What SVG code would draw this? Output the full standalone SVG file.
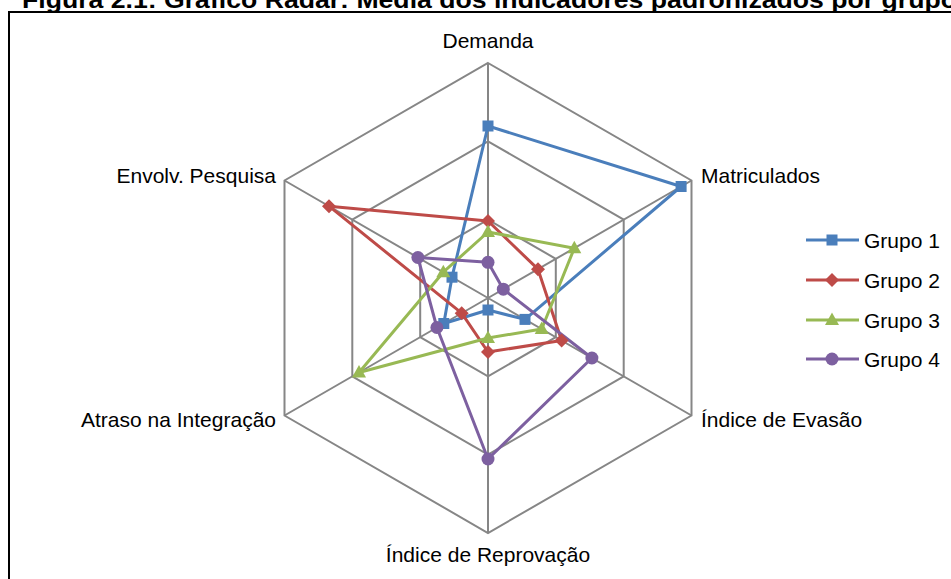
<svg xmlns="http://www.w3.org/2000/svg" xmlns:xlink="http://www.w3.org/1999/xlink" width="951" height="579" viewBox="0 0 951 579">
<style>
text{font-family:"Liberation Sans",Arial,sans-serif;fill:#000}
.lbl{font-size:21px}
.title{font-size:24px;font-weight:bold}
.grid{fill:none;stroke:#868686;stroke-width:2}
.s{fill:none;stroke-width:3;stroke-linejoin:round}
.g1{stroke:#4A7EBB;fill:#4A7EBB}
.g2{stroke:#BE4B48;fill:#BE4B48}
.g3{stroke:#98B954;fill:#98B954}
.g4{stroke:#7D60A0;fill:#7D60A0}
</style>
<defs>
<rect id="mSq" x="-5.5" y="-5.5" width="11" height="11" stroke="none"/>
<path id="mDi" d="M0,-7 L7,0 L0,7 L-7,0Z" stroke="none"/>
<path id="mTr" d="M0,-7.5 L7,5 L-7,5Z" stroke="none"/>
<circle id="mCi" r="6.5" stroke="none"/>
</defs>
<rect width="951" height="579" fill="#fff"/>
<text class="title" x="22" y="8" textLength="935" lengthAdjust="spacingAndGlyphs">Figura 2.1: Gráfico Radar: Média dos indicadores padronizados por grupo</text>
<path d="M9,590 V12 H960" fill="none" stroke="#000" stroke-width="2"/>
<g id="grid">
<polygon class="grid" points="488,63 691.5,180.5 691.5,415.5 488,533 284.5,415.5 284.5,180.5"/>
<polygon class="grid" points="488,141.3 623.7,219.7 623.7,376.3 488,454.7 352.3,376.3 352.3,219.7"/>
<polygon class="grid" points="488,219.7 555.8,258.8 555.8,337.2 488,376.3 420.2,337.2 420.2,258.8"/>
<path class="grid" d="M488,298 L488,63 M488,298 L691.5,180.5 M488,298 L691.5,415.5 M488,298 L488,533 M488,298 L284.5,415.5 M488,298 L284.5,180.5"/>
</g>
<g id="axis-labels">
<text class="lbl" x="488" y="48" text-anchor="middle">Demanda</text>
<text class="lbl" x="701" y="183">Matriculados</text>
<text class="lbl" x="701" y="427">Índice de Evasão</text>
<text class="lbl" x="488" y="562" text-anchor="middle">Índice de Reprovação</text>
<text class="lbl" x="276" y="427" text-anchor="end">Atraso na Integração</text>
<text class="lbl" x="276" y="183" text-anchor="end">Envolv. Pesquisa</text>
</g>
<g id="connectors">
<polygon class="s g1" style="fill:none" points="488,126 681.1,186.5 525,319.4 488,310 443.8,323.5 452,277.2"/>
<polygon class="s g2" style="fill:none" points="488,221 538,269.2 561.6,340.5 488,352 461.7,313.2 329,206.2"/>
<polygon class="s g3" style="fill:none" points="488,232 574.3,248.2 541.7,329 488,338 359,372.5 443.3,272.2"/>
<polygon class="s g4" style="fill:none" points="488,262.3 503.3,289.2 591.9,358 488,459 436.9,327.5 417.9,257.5"/>
</g>
<g id="grupo1" class="g1">
<use xlink:href="#mSq" x="488" y="126"/><use xlink:href="#mSq" x="681.1" y="186.5"/><use xlink:href="#mSq" x="525" y="319.4"/><use xlink:href="#mSq" x="488" y="310"/><use xlink:href="#mSq" x="443.8" y="323.5"/><use xlink:href="#mSq" x="452" y="277.2"/>
</g>
<g id="grupo2" class="g2">
<use xlink:href="#mDi" x="488" y="221"/><use xlink:href="#mDi" x="538" y="269.2"/><use xlink:href="#mDi" x="561.6" y="340.5"/><use xlink:href="#mDi" x="488" y="352"/><use xlink:href="#mDi" x="461.7" y="313.2"/><use xlink:href="#mDi" x="329" y="206.2"/>
</g>
<g id="grupo3" class="g3">
<use xlink:href="#mTr" x="488" y="232"/><use xlink:href="#mTr" x="574.3" y="248.2"/><use xlink:href="#mTr" x="541.7" y="329"/><use xlink:href="#mTr" x="488" y="338"/><use xlink:href="#mTr" x="359" y="372.5"/><use xlink:href="#mTr" x="443.3" y="272.2"/>
</g>
<g id="grupo4" class="g4">
<use xlink:href="#mCi" x="488" y="262.3"/><use xlink:href="#mCi" x="503.3" y="289.2"/><use xlink:href="#mCi" x="591.9" y="358"/><use xlink:href="#mCi" x="488" y="459"/><use xlink:href="#mCi" x="436.9" y="327.5"/><use xlink:href="#mCi" x="417.9" y="257.5"/>
</g>
<g id="legend">
<g class="g1"><line class="s" x1="806" y1="240" x2="859" y2="240"/><use xlink:href="#mSq" x="832" y="240"/></g>
<text class="lbl" x="864" y="247.5">Grupo 1</text>
<g class="g2"><line class="s" x1="806" y1="280" x2="859" y2="280"/><use xlink:href="#mDi" x="832" y="280"/></g>
<text class="lbl" x="864" y="287.5">Grupo 2</text>
<g class="g3"><line class="s" x1="806" y1="320" x2="859" y2="320"/><use xlink:href="#mTr" x="832" y="320"/></g>
<text class="lbl" x="864" y="327.5">Grupo 3</text>
<g class="g4"><line class="s" x1="806" y1="359" x2="859" y2="359"/><use xlink:href="#mCi" x="832" y="359"/></g>
<text class="lbl" x="864" y="366.5">Grupo 4</text>
</g>
</svg>
